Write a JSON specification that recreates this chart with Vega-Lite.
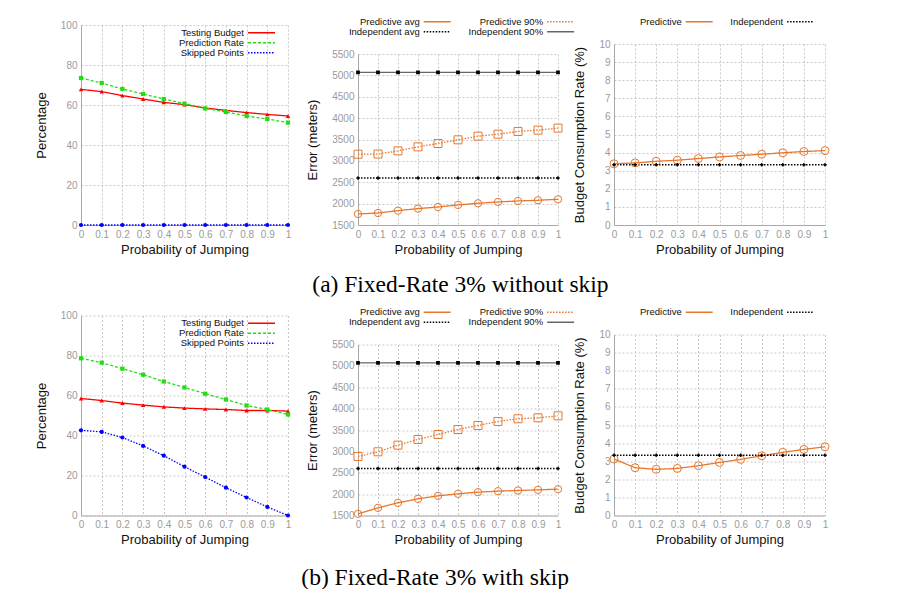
{
  "$schema": "https://vega.github.io/schema/vega-lite/v6.json",
  "padding": {"left": 35, "top": 16, "right": 0, "bottom": 0},
  "autosize": {"type": "pad"},
  "spacing": 9.5,
  "resolve": {"scale": {"color": "independent", "strokeDash": "independent"}, "legend": {"color": "independent", "strokeDash": "independent"}},
  "datasets": {
    "a1": [
      {"p":0,"s":"Testing Budget","v":67.8},{"p":0.1,"s":"Testing Budget","v":66.7},{"p":0.2,"s":"Testing Budget","v":64.7},{"p":0.3,"s":"Testing Budget","v":63.0},{"p":0.4,"s":"Testing Budget","v":61.3},{"p":0.5,"s":"Testing Budget","v":60.2},{"p":0.6,"s":"Testing Budget","v":58.5},{"p":0.7,"s":"Testing Budget","v":57.3},{"p":0.8,"s":"Testing Budget","v":56.2},{"p":0.9,"s":"Testing Budget","v":55.3},{"p":1,"s":"Testing Budget","v":54.5},
      {"p":0,"s":"Prediction Rate","v":73.5},{"p":0.1,"s":"Prediction Rate","v":71.0},{"p":0.2,"s":"Prediction Rate","v":68.0},{"p":0.3,"s":"Prediction Rate","v":65.5},{"p":0.4,"s":"Prediction Rate","v":63.0},{"p":0.5,"s":"Prediction Rate","v":60.7},{"p":0.6,"s":"Prediction Rate","v":58.3},{"p":0.7,"s":"Prediction Rate","v":56.5},{"p":0.8,"s":"Prediction Rate","v":54.5},{"p":0.9,"s":"Prediction Rate","v":53.0},{"p":1,"s":"Prediction Rate","v":51.2},
      {"p":0,"s":"Skipped Points","v":0},{"p":0.1,"s":"Skipped Points","v":0},{"p":0.2,"s":"Skipped Points","v":0},{"p":0.3,"s":"Skipped Points","v":0},{"p":0.4,"s":"Skipped Points","v":0},{"p":0.5,"s":"Skipped Points","v":0},{"p":0.6,"s":"Skipped Points","v":0},{"p":0.7,"s":"Skipped Points","v":0},{"p":0.8,"s":"Skipped Points","v":0},{"p":0.9,"s":"Skipped Points","v":0},{"p":1,"s":"Skipped Points","v":0}
    ],
    "b1": [
      {"p":0,"s":"Testing Budget","v":58.5},{"p":0.1,"s":"Testing Budget","v":57.5},{"p":0.2,"s":"Testing Budget","v":56.2},{"p":0.3,"s":"Testing Budget","v":55.2},{"p":0.4,"s":"Testing Budget","v":54.3},{"p":0.5,"s":"Testing Budget","v":53.7},{"p":0.6,"s":"Testing Budget","v":53.3},{"p":0.7,"s":"Testing Budget","v":53.0},{"p":0.8,"s":"Testing Budget","v":52.5},{"p":0.9,"s":"Testing Budget","v":52.5},{"p":1,"s":"Testing Budget","v":52.2},
      {"p":0,"s":"Prediction Rate","v":78.6},{"p":0.1,"s":"Prediction Rate","v":76.4},{"p":0.2,"s":"Prediction Rate","v":73.4},{"p":0.3,"s":"Prediction Rate","v":70.4},{"p":0.4,"s":"Prediction Rate","v":67.0},{"p":0.5,"s":"Prediction Rate","v":64.0},{"p":0.6,"s":"Prediction Rate","v":60.9},{"p":0.7,"s":"Prediction Rate","v":58.0},{"p":0.8,"s":"Prediction Rate","v":55.0},{"p":0.9,"s":"Prediction Rate","v":53.0},{"p":1,"s":"Prediction Rate","v":50.5},
      {"p":0,"s":"Skipped Points","v":42.6},{"p":0.1,"s":"Skipped Points","v":41.8},{"p":0.2,"s":"Skipped Points","v":39.0},{"p":0.3,"s":"Skipped Points","v":34.8},{"p":0.4,"s":"Skipped Points","v":29.9},{"p":0.5,"s":"Skipped Points","v":24.4},{"p":0.6,"s":"Skipped Points","v":19.2},{"p":0.7,"s":"Skipped Points","v":13.9},{"p":0.8,"s":"Skipped Points","v":9.0},{"p":0.9,"s":"Skipped Points","v":4.3},{"p":1,"s":"Skipped Points","v":0}
    ],
    "a2": [
      {"p":0,"s":"Predictive avg","v":1758},{"p":0.1,"s":"Predictive avg","v":1781},{"p":0.2,"s":"Predictive avg","v":1836},{"p":0.3,"s":"Predictive avg","v":1883},{"p":0.4,"s":"Predictive avg","v":1922},{"p":0.5,"s":"Predictive avg","v":1969},{"p":0.6,"s":"Predictive avg","v":2008},{"p":0.7,"s":"Predictive avg","v":2039},{"p":0.8,"s":"Predictive avg","v":2062},{"p":0.9,"s":"Predictive avg","v":2078},{"p":1,"s":"Predictive avg","v":2102},
      {"p":0,"s":"Predictive 90%","v":3156},{"p":0.1,"s":"Predictive 90%","v":3160},{"p":0.2,"s":"Predictive 90%","v":3234},{"p":0.3,"s":"Predictive 90%","v":3328},{"p":0.4,"s":"Predictive 90%","v":3406},{"p":0.5,"s":"Predictive 90%","v":3492},{"p":0.6,"s":"Predictive 90%","v":3578},{"p":0.7,"s":"Predictive 90%","v":3625},{"p":0.8,"s":"Predictive 90%","v":3688},{"p":0.9,"s":"Predictive 90%","v":3719},{"p":1,"s":"Predictive 90%","v":3766},
      {"p":0,"s":"Independent avg","v":2600},{"p":0.1,"s":"Independent avg","v":2600},{"p":0.2,"s":"Independent avg","v":2600},{"p":0.3,"s":"Independent avg","v":2600},{"p":0.4,"s":"Independent avg","v":2600},{"p":0.5,"s":"Independent avg","v":2600},{"p":0.6,"s":"Independent avg","v":2600},{"p":0.7,"s":"Independent avg","v":2600},{"p":0.8,"s":"Independent avg","v":2600},{"p":0.9,"s":"Independent avg","v":2600},{"p":1,"s":"Independent avg","v":2600},
      {"p":0,"s":"Independent 90%","v":5070},{"p":0.1,"s":"Independent 90%","v":5070},{"p":0.2,"s":"Independent 90%","v":5070},{"p":0.3,"s":"Independent 90%","v":5070},{"p":0.4,"s":"Independent 90%","v":5070},{"p":0.5,"s":"Independent 90%","v":5070},{"p":0.6,"s":"Independent 90%","v":5070},{"p":0.7,"s":"Independent 90%","v":5070},{"p":0.8,"s":"Independent 90%","v":5070},{"p":0.9,"s":"Independent 90%","v":5070},{"p":1,"s":"Independent 90%","v":5070}
    ],
    "b2": [
      {"p":0,"s":"Predictive avg","v":1539},{"p":0.1,"s":"Predictive avg","v":1679},{"p":0.2,"s":"Predictive avg","v":1796},{"p":0.3,"s":"Predictive avg","v":1890},{"p":0.4,"s":"Predictive avg","v":1960},{"p":0.5,"s":"Predictive avg","v":2007},{"p":0.6,"s":"Predictive avg","v":2046},{"p":0.7,"s":"Predictive avg","v":2069},{"p":0.8,"s":"Predictive avg","v":2085},{"p":0.9,"s":"Predictive avg","v":2100},{"p":1,"s":"Predictive avg","v":2116},
      {"p":0,"s":"Predictive 90%","v":2881},{"p":0.1,"s":"Predictive 90%","v":2990},{"p":0.2,"s":"Predictive 90%","v":3146},{"p":0.3,"s":"Predictive 90%","v":3278},{"p":0.4,"s":"Predictive 90%","v":3395},{"p":0.5,"s":"Predictive 90%","v":3512},{"p":0.6,"s":"Predictive 90%","v":3606},{"p":0.7,"s":"Predictive 90%","v":3700},{"p":0.8,"s":"Predictive 90%","v":3762},{"p":0.9,"s":"Predictive 90%","v":3785},{"p":1,"s":"Predictive 90%","v":3832},
      {"p":0,"s":"Independent avg","v":2600},{"p":0.1,"s":"Independent avg","v":2600},{"p":0.2,"s":"Independent avg","v":2600},{"p":0.3,"s":"Independent avg","v":2600},{"p":0.4,"s":"Independent avg","v":2600},{"p":0.5,"s":"Independent avg","v":2600},{"p":0.6,"s":"Independent avg","v":2600},{"p":0.7,"s":"Independent avg","v":2600},{"p":0.8,"s":"Independent avg","v":2600},{"p":0.9,"s":"Independent avg","v":2600},{"p":1,"s":"Independent avg","v":2600},
      {"p":0,"s":"Independent 90%","v":5070},{"p":0.1,"s":"Independent 90%","v":5070},{"p":0.2,"s":"Independent 90%","v":5070},{"p":0.3,"s":"Independent 90%","v":5070},{"p":0.4,"s":"Independent 90%","v":5070},{"p":0.5,"s":"Independent 90%","v":5070},{"p":0.6,"s":"Independent 90%","v":5070},{"p":0.7,"s":"Independent 90%","v":5070},{"p":0.8,"s":"Independent 90%","v":5070},{"p":0.9,"s":"Independent 90%","v":5070},{"p":1,"s":"Independent 90%","v":5070}
    ],
    "a3": [
      {"p":0,"s":"Predictive","v":3.38},{"p":0.1,"s":"Predictive","v":3.43},{"p":0.2,"s":"Predictive","v":3.52},{"p":0.3,"s":"Predictive","v":3.58},{"p":0.4,"s":"Predictive","v":3.67},{"p":0.5,"s":"Predictive","v":3.76},{"p":0.6,"s":"Predictive","v":3.84},{"p":0.7,"s":"Predictive","v":3.91},{"p":0.8,"s":"Predictive","v":3.99},{"p":0.9,"s":"Predictive","v":4.06},{"p":1,"s":"Predictive","v":4.11},
      {"p":0,"s":"Independent","v":3.33},{"p":0.1,"s":"Independent","v":3.33},{"p":0.2,"s":"Independent","v":3.33},{"p":0.3,"s":"Independent","v":3.33},{"p":0.4,"s":"Independent","v":3.33},{"p":0.5,"s":"Independent","v":3.33},{"p":0.6,"s":"Independent","v":3.33},{"p":0.7,"s":"Independent","v":3.33},{"p":0.8,"s":"Independent","v":3.33},{"p":0.9,"s":"Independent","v":3.33},{"p":1,"s":"Independent","v":3.33}
    ],
    "b3": [
      {"p":0,"s":"Predictive","v":3.12},{"p":0.1,"s":"Predictive","v":2.64},{"p":0.2,"s":"Predictive","v":2.55},{"p":0.3,"s":"Predictive","v":2.60},{"p":0.4,"s":"Predictive","v":2.75},{"p":0.5,"s":"Predictive","v":2.93},{"p":0.6,"s":"Predictive","v":3.10},{"p":0.7,"s":"Predictive","v":3.30},{"p":0.8,"s":"Predictive","v":3.49},{"p":0.9,"s":"Predictive","v":3.65},{"p":1,"s":"Predictive","v":3.80},
      {"p":0,"s":"Independent","v":3.33},{"p":0.1,"s":"Independent","v":3.33},{"p":0.2,"s":"Independent","v":3.33},{"p":0.3,"s":"Independent","v":3.33},{"p":0.4,"s":"Independent","v":3.33},{"p":0.5,"s":"Independent","v":3.33},{"p":0.6,"s":"Independent","v":3.33},{"p":0.7,"s":"Independent","v":3.33},{"p":0.8,"s":"Independent","v":3.33},{"p":0.9,"s":"Independent","v":3.33},{"p":1,"s":"Independent","v":3.33}
    ]
  },
  "vconcat": [
    {
      "title": {"text": "(a) Fixed-Rate 3% without skip", "orient": "bottom", "anchor": "start", "dx": 277, "offset": -14, "font": "Liberation Serif", "fontSize": 23.5, "fontWeight": "normal", "color": "#000"},
      "spacing": 15,
      "center": true,
      "resolve": {"scale": {"color": "independent", "strokeDash": "independent"}, "legend": {"color": "independent", "strokeDash": "independent"}},
      "hconcat": [
        {
          "width": 207, "height": 200,
          "title": {"text": ".", "orient": "bottom", "color": "transparent", "fontSize": 2, "offset": 29},
          "data": {"name": "a1"},
          "encoding": {
            "x": {"field": "p", "type": "quantitative", "scale": {"domain": [0, 1]}, "axis": {"title": "Probability of Jumping", "values": [0,0.1,0.2,0.3,0.4,0.5,0.6,0.7,0.8,0.9,1], "format": "~g"}},
            "y": {"field": "v", "type": "quantitative", "scale": {"domain": [0, 100]}, "axis": {"title": "Percentage", "values": [0,20,40,60,80,100], "format": "d"}}
          },
          "layer": [
            {
              "mark": {"type": "line", "strokeWidth": 1.3},
              "encoding": {
                "color": {"field": "s", "type": "nominal", "scale": {"domain": ["Testing Budget","Prediction Rate","Skipped Points"], "range": ["#ff0000","#22dd11","#0000ff"]}, "legend": {"orient": "none", "legendX": 175, "legendY": 2.2, "direction": "vertical", "title": null}},
                "strokeDash": {"field": "s", "type": "nominal", "scale": {"domain": ["Testing Budget","Prediction Rate","Skipped Points"], "range": [[1,0],[3,2],[1.5,1.5]]}, "legend": {"orient": "none", "legendX": 175, "legendY": 2.2, "direction": "vertical", "title": null}}
              }
            },
            {"transform": [{"filter": "datum.s === 'Testing Budget'"}], "mark": {"type": "point", "shape": "triangle-up", "filled": true, "color": "#ff0000", "size": 20, "opacity": 1}},
            {"transform": [{"filter": "datum.s === 'Prediction Rate'"}], "mark": {"type": "point", "shape": "square", "filled": true, "color": "#22dd11", "size": 18, "opacity": 1}},
            {"transform": [{"filter": "datum.s === 'Skipped Points'"}], "mark": {"type": "point", "shape": "circle", "filled": true, "color": "#0000ff", "size": 18, "opacity": 1}}
          ]
        },
        {
          "spacing": -5,
          "center": true,
          "resolve": {"scale": {"color": "independent", "strokeDash": "independent"}, "legend": {"color": "independent", "strokeDash": "independent"}},
          "hconcat": [
            {
              "width": 200, "height": 171,
              "title": {"text": ".", "orient": "bottom", "color": "transparent", "fontSize": 2, "offset": 0},
              "data": {"name": "a2"},
              "encoding": {
                "x": {"field": "p", "type": "quantitative", "scale": {"domain": [0, 1]}, "axis": {"title": "Probability of Jumping", "values": [0,0.1,0.2,0.3,0.4,0.5,0.6,0.7,0.8,0.9,1], "format": "~g"}},
                "y": {"field": "v", "type": "quantitative", "scale": {"domain": [1500, 5500]}, "axis": {"title": "Error (meters)", "values": [1500,2000,2500,3000,3500,4000,4500,5000,5500], "format": "d"}}
              },
              "layer": [
                {
                  "mark": {"type": "line", "strokeWidth": 1.3},
                  "encoding": {
                    "color": {"field": "s", "type": "nominal", "scale": {"domain": ["Predictive avg","Predictive 90%","Independent avg","Independent 90%"], "range": ["#e8772e","#e8772e","#000000","#666666"]}, "legend": {"orient": "none", "legendX": 73.7, "legendY": -37.8, "columns": 2, "direction": "horizontal", "title": null}},
                    "strokeDash": {"field": "s", "type": "nominal", "scale": {"domain": ["Predictive avg","Predictive 90%","Independent avg","Independent 90%"], "range": [[1,0],[1.5,1.5],[1.5,1.5],[1,0]]}, "legend": {"orient": "none", "legendX": 73.7, "legendY": -37.8, "columns": 2, "direction": "horizontal", "title": null}}
                  }
                },
                {"transform": [{"filter": "datum.s === 'Predictive avg'"}], "mark": {"type": "point", "shape": "circle", "filled": false, "color": "#e8772e", "size": 54, "strokeWidth": 1, "opacity": 1}},
                {"transform": [{"filter": "datum.s === 'Predictive 90%'"}], "mark": {"type": "point", "shape": "square", "filled": false, "color": "#e8772e", "size": 64, "strokeWidth": 1, "opacity": 1}},
                {"transform": [{"filter": "datum.s === 'Independent avg'"}], "mark": {"type": "point", "shape": "cross", "filled": true, "color": "#000000", "size": 12, "opacity": 1}},
                {"transform": [{"filter": "datum.s === 'Independent 90%'"}], "mark": {"type": "point", "shape": "square", "filled": true, "color": "#000000", "size": 14, "opacity": 1}}
              ]
            },
            {
              "width": 211, "height": 181,
              "title": {"text": ".", "orient": "bottom", "color": "transparent", "fontSize": 2, "offset": 10},
              "data": {"name": "a3"},
              "encoding": {
                "x": {"field": "p", "type": "quantitative", "scale": {"domain": [0, 1]}, "axis": {"title": "Probability of Jumping", "values": [0,0.1,0.2,0.3,0.4,0.5,0.6,0.7,0.8,0.9,1], "format": "~g"}},
                "y": {"field": "v", "type": "quantitative", "scale": {"domain": [0, 10]}, "axis": {"title": "Budget Consumption Rate (%)", "values": [0,1,2,3,4,5,6,7,8,9,10], "format": "d"}}
              },
              "layer": [
                {
                  "mark": {"type": "line", "strokeWidth": 1.3},
                  "encoding": {
                    "color": {"field": "s", "type": "nominal", "scale": {"domain": ["Predictive","Independent"], "range": ["#e8772e","#000000"]}, "legend": {"orient": "none", "legendX": 79.7, "legendY": -27.8, "columns": 2, "direction": "horizontal", "title": null}},
                    "strokeDash": {"field": "s", "type": "nominal", "scale": {"domain": ["Predictive","Independent"], "range": [[1,0],[1.5,1.5]]}, "legend": {"orient": "none", "legendX": 79.7, "legendY": -27.8, "columns": 2, "direction": "horizontal", "title": null}}
                  }
                },
                {"transform": [{"filter": "datum.s === 'Predictive'"}], "mark": {"type": "point", "shape": "circle", "filled": false, "color": "#e8772e", "size": 64, "strokeWidth": 1, "opacity": 1}},
                {"transform": [{"filter": "datum.s === 'Independent'"}], "mark": {"type": "point", "shape": "cross", "filled": true, "color": "#000000", "size": 12, "opacity": 1}}
              ]
            }
          ]
        }
      ]
    },
    {
      "title": {"text": "(b) Fixed-Rate 3% with skip", "orient": "bottom", "anchor": "start", "dx": 266, "offset": -12, "font": "Liberation Serif", "fontSize": 23.5, "fontWeight": "normal", "color": "#000"},
      "spacing": 15,
      "center": true,
      "resolve": {"scale": {"color": "independent", "strokeDash": "independent"}, "legend": {"color": "independent", "strokeDash": "independent"}},
      "hconcat": [
        {
          "width": 207, "height": 200,
          "title": {"text": ".", "orient": "bottom", "color": "transparent", "fontSize": 2, "offset": 29},
          "data": {"name": "b1"},
          "encoding": {
            "x": {"field": "p", "type": "quantitative", "scale": {"domain": [0, 1]}, "axis": {"title": "Probability of Jumping", "values": [0,0.1,0.2,0.3,0.4,0.5,0.6,0.7,0.8,0.9,1], "format": "~g"}},
            "y": {"field": "v", "type": "quantitative", "scale": {"domain": [0, 100]}, "axis": {"title": "Percentage", "values": [0,20,40,60,80,100], "format": "d"}}
          },
          "layer": [
            {
              "mark": {"type": "line", "strokeWidth": 1.3},
              "encoding": {
                "color": {"field": "s", "type": "nominal", "scale": {"domain": ["Testing Budget","Prediction Rate","Skipped Points"], "range": ["#ff0000","#22dd11","#0000ff"]}, "legend": {"orient": "none", "legendX": 175, "legendY": 2.2, "direction": "vertical", "title": null}},
                "strokeDash": {"field": "s", "type": "nominal", "scale": {"domain": ["Testing Budget","Prediction Rate","Skipped Points"], "range": [[1,0],[3,2],[1.5,1.5]]}, "legend": {"orient": "none", "legendX": 175, "legendY": 2.2, "direction": "vertical", "title": null}}
              }
            },
            {"transform": [{"filter": "datum.s === 'Testing Budget'"}], "mark": {"type": "point", "shape": "triangle-up", "filled": true, "color": "#ff0000", "size": 20, "opacity": 1}},
            {"transform": [{"filter": "datum.s === 'Prediction Rate'"}], "mark": {"type": "point", "shape": "square", "filled": true, "color": "#22dd11", "size": 18, "opacity": 1}},
            {"transform": [{"filter": "datum.s === 'Skipped Points'"}], "mark": {"type": "point", "shape": "circle", "filled": true, "color": "#0000ff", "size": 18, "opacity": 1}}
          ]
        },
        {
          "spacing": -5,
          "center": true,
          "resolve": {"scale": {"color": "independent", "strokeDash": "independent"}, "legend": {"color": "independent", "strokeDash": "independent"}},
          "hconcat": [
            {
              "width": 200, "height": 171,
              "title": {"text": ".", "orient": "bottom", "color": "transparent", "fontSize": 2, "offset": 0},
              "data": {"name": "b2"},
              "encoding": {
                "x": {"field": "p", "type": "quantitative", "scale": {"domain": [0, 1]}, "axis": {"title": "Probability of Jumping", "values": [0,0.1,0.2,0.3,0.4,0.5,0.6,0.7,0.8,0.9,1], "format": "~g"}},
                "y": {"field": "v", "type": "quantitative", "scale": {"domain": [1500, 5500]}, "axis": {"title": "Error (meters)", "values": [1500,2000,2500,3000,3500,4000,4500,5000,5500], "format": "d"}}
              },
              "layer": [
                {
                  "mark": {"type": "line", "strokeWidth": 1.3},
                  "encoding": {
                    "color": {"field": "s", "type": "nominal", "scale": {"domain": ["Predictive avg","Predictive 90%","Independent avg","Independent 90%"], "range": ["#e8772e","#e8772e","#000000","#666666"]}, "legend": {"orient": "none", "legendX": 73.7, "legendY": -37.8, "columns": 2, "direction": "horizontal", "title": null}},
                    "strokeDash": {"field": "s", "type": "nominal", "scale": {"domain": ["Predictive avg","Predictive 90%","Independent avg","Independent 90%"], "range": [[1,0],[1.5,1.5],[1.5,1.5],[1,0]]}, "legend": {"orient": "none", "legendX": 73.7, "legendY": -37.8, "columns": 2, "direction": "horizontal", "title": null}}
                  }
                },
                {"transform": [{"filter": "datum.s === 'Predictive avg'"}], "mark": {"type": "point", "shape": "circle", "filled": false, "color": "#e8772e", "size": 54, "strokeWidth": 1, "opacity": 1}},
                {"transform": [{"filter": "datum.s === 'Predictive 90%'"}], "mark": {"type": "point", "shape": "square", "filled": false, "color": "#e8772e", "size": 64, "strokeWidth": 1, "opacity": 1}},
                {"transform": [{"filter": "datum.s === 'Independent avg'"}], "mark": {"type": "point", "shape": "cross", "filled": true, "color": "#000000", "size": 12, "opacity": 1}},
                {"transform": [{"filter": "datum.s === 'Independent 90%'"}], "mark": {"type": "point", "shape": "square", "filled": true, "color": "#000000", "size": 14, "opacity": 1}}
              ]
            },
            {
              "width": 211, "height": 181,
              "title": {"text": ".", "orient": "bottom", "color": "transparent", "fontSize": 2, "offset": 10},
              "data": {"name": "b3"},
              "encoding": {
                "x": {"field": "p", "type": "quantitative", "scale": {"domain": [0, 1]}, "axis": {"title": "Probability of Jumping", "values": [0,0.1,0.2,0.3,0.4,0.5,0.6,0.7,0.8,0.9,1], "format": "~g"}},
                "y": {"field": "v", "type": "quantitative", "scale": {"domain": [0, 10]}, "axis": {"title": "Budget Consumption Rate (%)", "values": [0,1,2,3,4,5,6,7,8,9,10], "format": "d"}}
              },
              "layer": [
                {
                  "mark": {"type": "line", "strokeWidth": 1.3},
                  "encoding": {
                    "color": {"field": "s", "type": "nominal", "scale": {"domain": ["Predictive","Independent"], "range": ["#e8772e","#000000"]}, "legend": {"orient": "none", "legendX": 79.7, "legendY": -27.8, "columns": 2, "direction": "horizontal", "title": null}},
                    "strokeDash": {"field": "s", "type": "nominal", "scale": {"domain": ["Predictive","Independent"], "range": [[1,0],[1.5,1.5]]}, "legend": {"orient": "none", "legendX": 79.7, "legendY": -27.8, "columns": 2, "direction": "horizontal", "title": null}}
                  }
                },
                {"transform": [{"filter": "datum.s === 'Predictive'"}], "mark": {"type": "point", "shape": "circle", "filled": false, "color": "#e8772e", "size": 64, "strokeWidth": 1, "opacity": 1}},
                {"transform": [{"filter": "datum.s === 'Independent'"}], "mark": {"type": "point", "shape": "cross", "filled": true, "color": "#000000", "size": 12, "opacity": 1}}
              ]
            }
          ]
        }
      ]
    }
  ],
  "config": {
    "font": "Liberation Sans",
    "view": {"stroke": null},
    "axis": {"labelFont": "Liberation Sans", "labelFontSize": 10, "labelColor": "#9a9a9a", "titleFont": "Liberation Sans", "titleFontSize": 13, "titleFontWeight": "normal", "titleColor": "#111111", "domainColor": "#a8a8a8", "ticks": false, "grid": true, "gridColor": "#c8c8c8", "gridDash": [2, 2], "labelFlush": false, "labelOverlap": false, "labelPadding": 4},
    "axisX": {"titlePadding": 4},
    "axisY": {"titlePadding": 12},
    "legend": {"labelFont": "Liberation Sans", "labelFontSize": 9.5, "labelColor": "#111111", "labelAlign": "right", "labelOffset": -23, "symbolType": "M-3,0L3,0", "symbolSize": 81, "symbolStrokeWidth": 1.5, "rowPadding": 0, "columnPadding": 14.4, "labelLimit": 200}
  }
}
